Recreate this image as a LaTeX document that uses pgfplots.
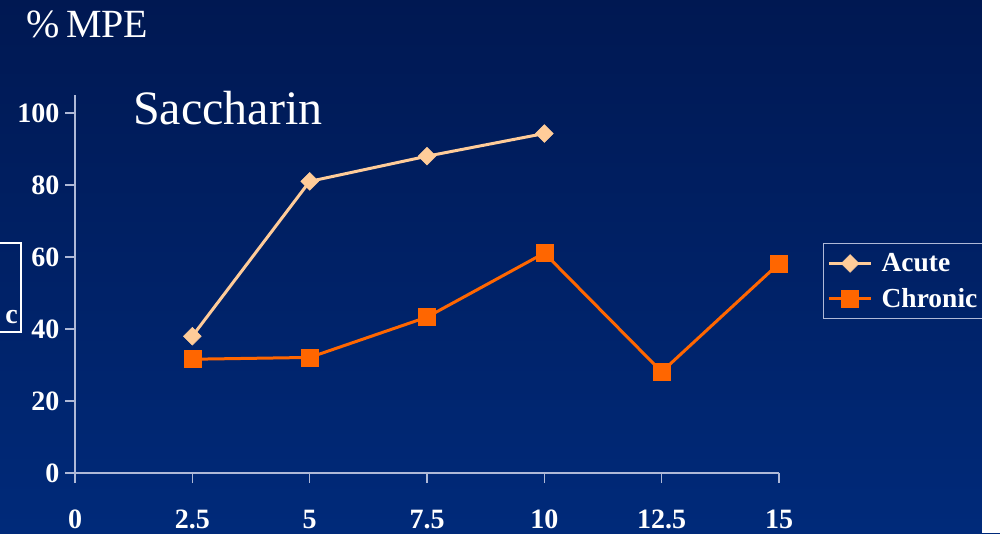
\documentclass[border=0pt]{standalone}
\usepackage{fontspec}
\setmainfont{Liberation Serif}
\usepackage{pgfplots}
\pgfplotsset{compat=1.18}
\definecolor{bgtop}{RGB}{0,24,82}
\definecolor{bgbot}{RGB}{0,42,122}
\definecolor{axcol}{RGB}{175,185,215}
\definecolor{acute}{RGB}{255,204,153}
\definecolor{chronic}{RGB}{255,102,0}
\begin{document}
\begin{tikzpicture}[x=1pt,y=1pt]
\path[use as bounding box] (0,0) rectangle (1000,533);
\shade[top color=bgtop,bottom color=bgbot] (0,0) rectangle (1000,533);
\node[anchor=base west,text=white,font=\fontsize{40}{40}\selectfont,inner sep=0pt] at (26,495) {\%\,MPE};
\draw[white,line width=1.2pt] (-2,290) rectangle (21,201);
\node[anchor=base east,text=white,font=\fontsize{28}{28}\selectfont\bfseries,inner sep=0pt] at (18,210) {c};
\begin{axis}[
  at={(75pt,60pt)}, anchor=south west, scale only axis,
  width=704pt, height=378pt,
  xmin=0, xmax=15, ymin=0, ymax=105,
  axis lines=left, axis line style={axcol, line width=1.5pt, -},
  xtick={0,2.5,5,7.5,10,12.5,15}, ytick={0,20,40,60,80,100},
  tick align=outside, major tick length=10pt,
  tick style={axcol, line width=1.5pt},
  ticklabel style={text=white, font=\fontsize{28}{28}\selectfont\bfseries},
  /pgf/number format/assume math mode=true,
  xticklabel style={anchor=base, yshift=-45pt},
  yticklabel style={anchor=east, xshift=-2pt},
  clip=false,
  legend style={at={(1.0625,0.6085)}, anchor=north west, fill=none, draw=axcol, line width=1.2pt,
    text=white, font=\fontsize{27.5}{27.5}\selectfont\bfseries, inner xsep=4pt, inner ysep=8pt, row sep=11pt},
  legend cell align=left,
  legend image code/.code={\draw[mark repeat=2,mark phase=2] plot coordinates {(0pt,0pt)(21pt,0pt)(42pt,0pt)}; \path (49pt,0pt);},
]
\addplot[acute, line width=3pt, mark=square*, mark size=6.3pt, mark options={rotate=45, fill=acute, draw=acute, line width=0.5pt}]
  coordinates {(2.5,38) (5,81) (7.5,88) (10,94.3)};
\addlegendentry{Acute}
\addplot[chronic, line width=3pt, mark=square*, mark size=8.5pt, mark options={fill=chronic, draw=chronic, line width=0.5pt}]
  coordinates {(2.5,31.6) (5,32.1) (7.5,43.3) (10,61.1) (12.5,28.1) (15,58.2)};
\addlegendentry{Chronic}
\end{axis}
\node[anchor=base west,text=white,font=\fontsize{48}{48}\selectfont,inner sep=0pt] at (133,408) {Saccharin};
\fill[white] (982,0) rectangle (1000,533);
\end{tikzpicture}
\end{document}
